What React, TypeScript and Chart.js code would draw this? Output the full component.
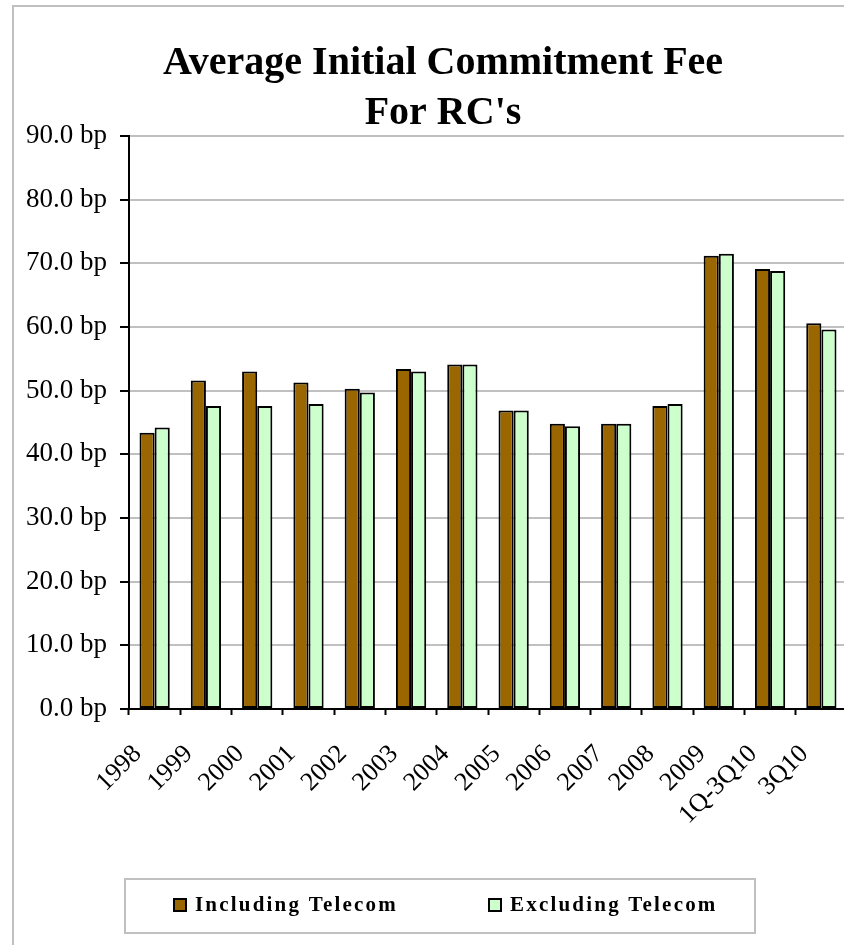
import React, { useEffect, useRef } from 'react';
import { Chart, registerables } from 'chart.js';

Chart.register(...registerables);

const categories = ['1998', '1999', '2000', '2001', '2002', '2003', '2004', '2005', '2006', '2007', '2008', '2009', '1Q-3Q10', '3Q10'];
const includingTelecom = [43.4, 51.6, 53.0, 51.3, 50.3, 53.4, 54.1, 46.9, 44.8, 44.8, 47.6, 71.2, 69.1, 60.6];
const excludingTelecom = [44.2, 47.6, 47.6, 47.9, 49.7, 53.0, 54.1, 46.9, 44.4, 44.8, 47.9, 71.5, 68.8, 59.6];
const seriesLabels = ['Including Telecom', 'Excluding Telecom'];
const titleLines = ['Average Initial Commitment Fee', "For RC's"];
const yMin = 0;
const yMax = 90;
const yStep = 10;

const SERIF = "'Liberation Serif', 'Times New Roman', serif";
const W = 858;
const H = 938;
const CENTER_X = 429;

export default function App() {
  const ref = useRef<HTMLCanvasElement>(null);

  useEffect(() => {
    if (!ref.current) return;

    const titleAndLegend = {
      id: 'titleAndLegend',
      afterDraw(chart: any) {
        const ctx = chart.ctx as CanvasRenderingContext2D;
        ctx.save();
        // title
        ctx.fillStyle = '#000';
        ctx.font = `bold 40px ${SERIF}`;
        ctx.textAlign = 'center';
        ctx.textBaseline = 'middle';
        titleLines.forEach((line, i) => {
          ctx.fillText(line, CENTER_X, 57 + i * 50);
        });

        // legend
        const boxW = 630;
        const boxH = 54;
        const left = CENTER_X - 3 - boxW / 2;
        const top = chart.height - 66;
        ctx.strokeStyle = '#c0c0c0';
        ctx.lineWidth = 2;
        ctx.strokeRect(left, top, boxW, boxH);
        const offsets = [48, 363];
        chart.data.datasets.forEach((ds: any, i: number) => {
          const mx = left + offsets[i];
          const my = top + 19;
          ctx.fillStyle = ds.backgroundColor;
          ctx.fillRect(mx, my, 14, 14);
          ctx.strokeStyle = '#000';
          ctx.lineWidth = 2;
          ctx.strokeRect(mx + 1, my + 1, 12, 12);
          ctx.fillStyle = '#000';
          ctx.font = `bold 21px ${SERIF}`;
          (ctx as any).letterSpacing = '2.2px';
          ctx.textBaseline = 'middle';
          ctx.textAlign = 'left';
          ctx.fillText(ds.label, mx + 22, my + 8);
        });
        (ctx as any).letterSpacing = '0px';
        ctx.restore();
      },
    };

    const chart = new Chart(ref.current, {
      type: 'bar',
      data: {
        labels: categories,
        datasets: [
          {
            label: seriesLabels[0],
            data: includingTelecom,
            backgroundColor: '#996600',
            borderColor: '#000000',
            borderWidth: 2,
            borderSkipped: false,
            categoryPercentage: 0.59,
            barPercentage: 1,
          },
          {
            label: seriesLabels[1],
            data: excludingTelecom,
            backgroundColor: '#ccffcc',
            borderColor: '#000000',
            borderWidth: 2,
            borderSkipped: false,
            categoryPercentage: 0.59,
            barPercentage: 1,
          },
        ],
      },
      options: {
        responsive: false,
        animation: false,
        devicePixelRatio: 1,
        layout: { padding: { left: 0, right: 25, top: 129, bottom: H - 702 - 140 } },
        plugins: {
          legend: { display: false },
          tooltip: { enabled: false },
          title: { display: false },
        },
        scales: {
          x: {
            afterFit(scale: any) {
              scale.height = 140;
            },
            grid: {
              display: true,
              drawOnChartArea: false,
              drawTicks: true,
              tickLength: 6,
              tickColor: '#000',
              tickWidth: 2,
              offset: true,
            },
            border: { display: true, color: '#000', width: 2 },
            ticks: {
              color: '#000',
              font: { family: SERIF, size: 26 },
              minRotation: 45,
              maxRotation: 45,
              autoSkip: false,
              padding: 24,
              labelOffset: -17,
            },
          },
          y: {
            min: yMin,
            max: yMax,
            afterFit(scale: any) {
              scale.width = 115;
            },
            grid: {
              color: '#c0c0c0',
              lineWidth: 2,
              tickColor: '#000',
              tickWidth: 2,
              tickLength: 9,
            },
            border: { display: true, color: '#000', width: 2 },
            ticks: {
              stepSize: yStep,
              color: '#000',
              padding: 13,
              font: { family: SERIF, size: 27 },
              callback: (v: any) => Number(v).toFixed(1) + ' bp',
            },
          },
        },
      },
      plugins: [titleAndLegend],
    } as any);

    return () => chart.destroy();
  }, []);

  return (
    <div style={{ position: 'fixed', left: 0, top: 0, width: 844, height: 945, overflow: 'hidden', background: '#fff' }}>
      <div
        style={{
          position: 'absolute',
          left: 12,
          top: 5,
          width: W,
          height: H + 10,
          border: '2px solid #c0c0c0',
        }}
      >
        <canvas ref={ref} width={W} height={H} style={{ display: 'block', width: W, height: H }} />
      </div>
    </div>
  );
}
